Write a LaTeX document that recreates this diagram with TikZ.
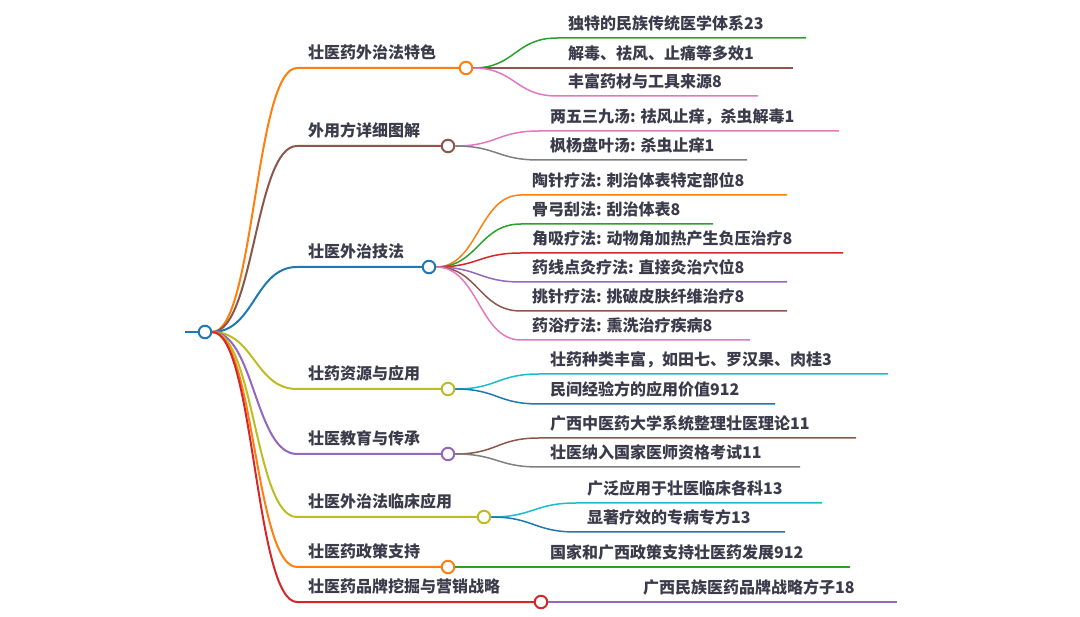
\documentclass[tikz,border=0pt]{standalone}
\usepackage{fontspec}
\setmainfont{Noto Sans CJK SC}
\usepackage{tikz}
\usetikzlibrary{calc}
\definecolor{orng}{HTML}{FF7F0E}
\definecolor{brwn}{HTML}{8C564B}
\definecolor{blu}{HTML}{1F77B4}
\definecolor{olv}{HTML}{BCBD22}
\definecolor{purp}{HTML}{9467BD}
\definecolor{rd}{HTML}{D62728}
\definecolor{grn}{HTML}{2CA02C}
\definecolor{pnk}{HTML}{E377C2}
\definecolor{gry}{HTML}{7F7F7F}
\definecolor{cyn}{HTML}{17BECF}
\definecolor{ink}{HTML}{3B3B4B}
\tikzset{
  dot/.style={circle, draw=#1, fill=white, line width=2pt, minimum size=12.5pt, inner sep=0pt},
  main/.style={anchor=base west, inner sep=0pt, text=ink,
               font=\fontsize{16}{18}\selectfont\bfseries},
  leaf/.style={main},
  br/.style={line width=2pt},
  tw/.style={line width=1.5pt},
}

\begin{document}
\begin{tikzpicture}[x=1pt,y=-1pt]
\useasboundingbox (0,0) rectangle (1080,617);
\node[dot=blu] (root) at (205,332) {};
\coordinate (rl) at (185,332);
\draw[br,blu] (rl) -- (root.west);

% first level
\node[dot=orng] (b1) at (466,68) {};
\node[dot=brwn] (b2) at (448,146) {};
\node[dot=blu] (b3) at (429,267) {};
\node[dot=olv] (b4) at (448,389) {};
\node[dot=purp] (b5) at (448,454) {};
\node[dot=olv] (b6) at (484,517) {};
\node[dot=orng] (b7) at (448,567) {};
\node[dot=rd] (b8) at (541,602) {};
\coordinate (b1s) at (297,68);
\coordinate (b2s) at (297,146);
\coordinate (b3s) at (297,267);
\coordinate (b4s) at (297,389);
\coordinate (b5s) at (297,454);
\coordinate (b6s) at (297,517);
\coordinate (b7s) at (297,567);
\coordinate (b8s) at (297,602);
\node[main] (l1) at (308,59) {壮医药外治法特色};
\node[main] (l2) at (308,137) {外用方详细图解};
\node[main] (l3) at (308,258) {壮医外治技法};
\node[main] (l4) at (308,380) {壮药资源与应用};
\node[main] (l5) at (308,445) {壮医教育与传承};
\node[main] (l6) at (308,508) {壮医外治法临床应用};
\node[main] (l7) at (308,558) {壮医药政策支持};
\node[main] (l8) at (308,593) {壮医药品牌挖掘与营销战略};
\draw[br,orng] (root.east) .. controls +(42,0) and +(-42,0) .. (b1s) -- (b1.west);
\draw[br,brwn] (root.east) .. controls +(42,0) and +(-42,0) .. (b2s) -- (b2.west);
\draw[br,blu] (root.east) .. controls +(42,0) and +(-42,0) .. (b3s) -- (b3.west);
\draw[br,olv] (root.east) .. controls +(42,0) and +(-42,0) .. (b4s) -- (b4.west);
\draw[br,purp] (root.east) .. controls +(42,0) and +(-42,0) .. (b5s) -- (b5.west);
\draw[br,olv] (root.east) .. controls +(42,0) and +(-42,0) .. (b6s) -- (b6.west);
\draw[br,orng] (root.east) .. controls +(42,0) and +(-42,0) .. (b7s) -- (b7.west);
\draw[br,rd] (root.east) .. controls +(42,0) and +(-42,0) .. (b8s) -- (b8.west);

% second level
\node[leaf] (c11) at (568,30) {独特的民族传统医学体系23};
\node[leaf] (c12) at (568,60) {解毒、祛风、止痛等多效1};
\node[leaf] (c13) at (568,88) {丰富药材与工具来源8};
\node[leaf] (c21) at (550,123) {两五三九汤: 祛风止痒，杀虫解毒1};
\node[leaf] (c22) at (550,152) {枫杨盘叶汤: 杀虫止痒1};
\node[leaf] (c31) at (532,187) {陶针疗法: 刺治体表特定部位8};
\node[leaf] (c32) at (532,216) {骨弓刮法: 刮治体表8};
\node[leaf] (c33) at (532,245) {角吸疗法: 动物角加热产生负压治疗8};
\node[leaf] (c34) at (532,274) {药线点灸疗法: 直接灸治穴位8};
\node[leaf] (c35) at (532,303) {挑针疗法: 挑破皮肤纤维治疗8};
\node[leaf] (c36) at (532,332) {药浴疗法: 熏洗治疗疾病8};
\node[leaf] (c41) at (550,366) {壮药种类丰富，如田七、罗汉果、肉桂3};
\node[leaf] (c42) at (550,396) {民间经验方的应用价值912};
\node[leaf] (c51) at (550,430) {广西中医药大学系统整理壮医理论11};
\node[leaf] (c52) at (550,459) {壮医纳入国家医师资格考试11};
\node[leaf] (c61) at (587,495) {广泛应用于壮医临床各科13};
\node[leaf] (c62) at (587,524) {显著疗效的专病专方13};
\node[leaf] (c71) at (550,559) {国家和广西政策支持壮医药发展912};
\node[leaf] (c81) at (643,594) {广西民族医药品牌战略方子18};

\coordinate (c11s) at (557,38);  \coordinate (c11e) at (806,38);
\coordinate (c12s) at (557,68);  \coordinate (c12e) at (793,68);
\coordinate (c13s) at (557,96);  \coordinate (c13e) at (758,96);
\coordinate (c21s) at (539,131); \coordinate (c21e) at (839,131);
\coordinate (c22s) at (539,160); \coordinate (c22e) at (747,160);
\coordinate (c31s) at (521,195); \coordinate (c31e) at (787,195);
\coordinate (c32s) at (521,224); \coordinate (c32e) at (713,224);
\coordinate (c33s) at (521,253); \coordinate (c33e) at (843,253);
\coordinate (c34s) at (521,282); \coordinate (c34e) at (787,282);
\coordinate (c35s) at (521,311); \coordinate (c35e) at (787,311);
\coordinate (c36s) at (521,340); \coordinate (c36e) at (750,340);
\coordinate (c41s) at (539,374); \coordinate (c41e) at (888,374);
\coordinate (c42s) at (539,404); \coordinate (c42e) at (775,404);
\coordinate (c51s) at (539,438); \coordinate (c51e) at (856,438);
\coordinate (c52s) at (539,467); \coordinate (c52e) at (800,467);
\coordinate (c61s) at (576,503); \coordinate (c61e) at (822,503);
\coordinate (c62s) at (576,532); \coordinate (c62e) at (785,532);
\coordinate (c71s) at (539,567); \coordinate (c71e) at (850,567);
\coordinate (c81s) at (632,602); \coordinate (c81e) at (897,602);

\draw[tw,grn] (b1.east) .. controls +(42,0) and +(-42,0) .. (c11s) -- (c11e);
\draw[tw,brwn] (b1.east) .. controls +(42,0) and +(-42,0) .. (c12s) -- (c12e);
\draw[tw,pnk] (b1.east) .. controls +(42,0) and +(-42,0) .. (c13s) -- (c13e);
\draw[tw,pnk] (b2.east) .. controls +(42,0) and +(-42,0) .. (c21s) -- (c21e);
\draw[tw,gry] (b2.east) .. controls +(42,0) and +(-42,0) .. (c22s) -- (c22e);
\draw[tw,orng] (b3.east) .. controls +(42,0) and +(-42,0) .. (c31s) -- (c31e);
\draw[tw,grn] (b3.east) .. controls +(42,0) and +(-42,0) .. (c32s) -- (c32e);
\draw[tw,rd] (b3.east) .. controls +(42,0) and +(-42,0) .. (c33s) -- (c33e);
\draw[tw,purp] (b3.east) .. controls +(42,0) and +(-42,0) .. (c34s) -- (c34e);
\draw[tw,brwn] (b3.east) .. controls +(42,0) and +(-42,0) .. (c35s) -- (c35e);
\draw[tw,pnk] (b3.east) .. controls +(42,0) and +(-42,0) .. (c36s) -- (c36e);
\draw[tw,cyn] (b4.east) .. controls +(42,0) and +(-42,0) .. (c41s) -- (c41e);
\draw[tw,blu] (b4.east) .. controls +(42,0) and +(-42,0) .. (c42s) -- (c42e);
\draw[tw,brwn] (b5.east) .. controls +(42,0) and +(-42,0) .. (c51s) -- (c51e);
\draw[tw,gry] (b5.east) .. controls +(42,0) and +(-42,0) .. (c52s) -- (c52e);
\draw[tw,cyn] (b6.east) .. controls +(42,0) and +(-42,0) .. (c61s) -- (c61e);
\draw[tw,blu] (b6.east) .. controls +(42,0) and +(-42,0) .. (c62s) -- (c62e);
\draw[tw,grn] (b7.east) -- (c71s) -- (c71e);
\draw[tw,purp] (b8.east) -- (c81s) -- (c81e);
\end{tikzpicture}
\end{document}
